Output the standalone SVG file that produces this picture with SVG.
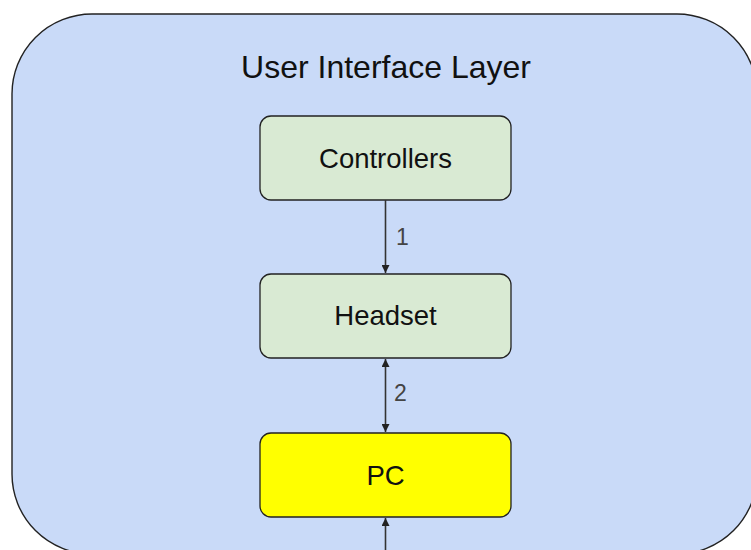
<svg xmlns="http://www.w3.org/2000/svg" width="751" height="550" viewBox="0 0 751 550">
<style>
.node rect{stroke:#222;stroke-width:1.3}
.lbl{font-family:"Liberation Sans",Arial,sans-serif;font-size:27.5px;fill:#111;text-anchor:middle}
.edge{stroke:#333;stroke-width:1.6;fill:none}
.num{font-family:"Liberation Sans",Arial,sans-serif;font-size:23px;fill:#444}
</style>
<defs>
<marker id="ah" viewBox="0 0 10 10" refX="10" refY="5" markerWidth="8" markerHeight="8" markerUnits="userSpaceOnUse" orient="auto-start-reverse">
<path d="M0,0 L10,5 L0,10 z" fill="#222"/>
</marker>
</defs>
<rect width="751" height="550" fill="#fff"/>
<g id="layer">
<rect x="12" y="14" width="745" height="540" rx="80" ry="80" fill="#c9daf8" stroke="#222" stroke-width="1.4"/>
<text x="386" y="78" font-family="Liberation Sans, Arial, sans-serif" font-size="32" fill="#111" text-anchor="middle">User Interface Layer</text>
</g>
<g id="controllers" class="node">
<rect x="260" y="116" width="251" height="84" rx="11" fill="#d9ead3"/>
<text class="lbl" x="385.5" y="168">Controllers</text>
</g>
<g id="headset" class="node">
<rect x="260" y="274" width="251" height="84" rx="11" fill="#d9ead3"/>
<text class="lbl" x="385.5" y="325">Headset</text>
</g>
<g id="pc" class="node">
<rect x="260" y="433" width="251" height="84" rx="11" fill="#ffff00"/>
<text class="lbl" x="385.5" y="485">PC</text>
</g>
<g id="connectors">
<line class="edge" x1="385.5" y1="200" x2="385.5" y2="273" marker-end="url(#ah)"/>
<text class="num" x="396" y="245">1</text>
<line class="edge" x1="385.5" y1="359" x2="385.5" y2="432" marker-start="url(#ah)" marker-end="url(#ah)"/>
<text class="num" x="394" y="401">2</text>
<line class="edge" x1="385.5" y1="552" x2="385.5" y2="518" marker-end="url(#ah)"/>
</g>
</svg>
